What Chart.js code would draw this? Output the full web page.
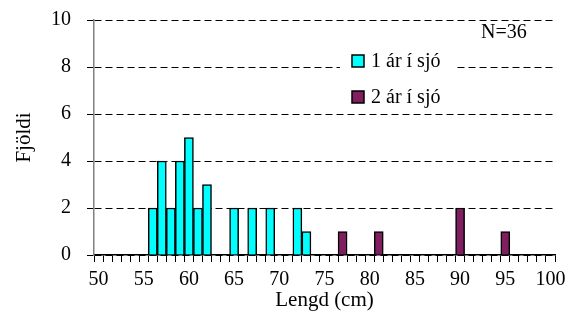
<!DOCTYPE html>
<html>
<head>
<meta charset="utf-8">
<script src="https://cdn.jsdelivr.net/npm/chart.js@4.4.1/dist/chart.umd.min.js"></script>
<style>
  html, body { margin: 0; padding: 0; background: #fff; }
</style>
</head>
<body>
<canvas id="lengthChart" width="567" height="323"></canvas>
<script>
// length classes (cm) on the x axis
const lengthClasses = ['50','51','52','53','54','55','56','57','58','59','60','61','62','63','64','65','66','67','68','69','70',
  '71','72','73','74','75','76','77','78','79','80','81','82','83','84','85','86','87','88','89','90',
  '91','92','93','94','95','96','97','98','99','100'];
const tickLabels = ['50','55','60','65','70','75','80','85','90','95','100'];
const yTicks = [0, 2, 4, 6, 8, 10];

// 1 ár í sjó
const oneSeaLengths = ['56','57','58','59','60','61','62','65','67','69','72','73'];
const oneSeaCounts  = [2, 4, 2, 4, 5, 2, 3, 2, 2, 2, 2, 1];
// 2 ár í sjó
const twoSeaLengths = ['77','81','90','95'];
const twoSeaCounts  = [1, 1, 2, 1];

const seriesNames = ['1 ár í sjó', '2 ár í sjó'];
const sampleText = 'N=36';

const serif = "'Liberation Serif', 'Times New Roman', serif";

function toSeries(lengths, counts) {
    return lengthClasses.map(l => {
        const i = lengths.indexOf(l);
        return i >= 0 ? counts[i] : null;
    });
}

// legend box and N label drawn inside the plot
const insideLegend = {
    id: 'insideLegend',
    afterDraw(chart) {
        const ctx = chart.ctx;
        ctx.save();
        ctx.fillStyle = '#fff';
        ctx.fillRect(340, 44, 117, 62);

        ctx.font = '20px ' + serif;
        ctx.textBaseline = 'middle';
        ctx.textAlign = 'left';
        chart.data.datasets.forEach((ds, i) => {
            const y = 55 + i * 36;
            ctx.fillStyle = ds.backgroundColor;
            ctx.fillRect(352, y, 12, 12);
            ctx.strokeStyle = '#000';
            ctx.lineWidth = 1.5;
            ctx.strokeRect(352, y, 12, 12);
            ctx.fillStyle = '#000';
            ctx.fillText(ds.label, 371, y + 7);
        });

        ctx.font = '20px ' + serif;
        ctx.fillText(sampleText, 481, 33);
        ctx.restore();
    }
};

new Chart(document.getElementById('lengthChart'), {
    type: 'bar',
    data: {
        labels: lengthClasses,
        datasets: [
            {
                label: seriesNames[0],
                data: toSeries(oneSeaLengths, oneSeaCounts),
                backgroundColor: '#00ffff',
                borderColor: '#000',
                borderWidth: 1.5
            },
            {
                label: seriesNames[1],
                data: toSeries(twoSeaLengths, twoSeaCounts),
                backgroundColor: '#7f1f60',
                borderColor: '#000',
                borderWidth: 1.5
            }
        ]
    },
    options: {
        responsive: false,
        animation: false,
        devicePixelRatio: 1,
        layout: { padding: { top: 20, right: 12, left: 0, bottom: 0 } },
        datasets: {
            bar: { barPercentage: 1, categoryPercentage: 1 }
        },
        plugins: {
            legend: { display: false },
            tooltip: { enabled: false }
        },
        scales: {
            x: {
                stacked: true,
                offset: true,
                grid: {
                    offset: true,
                    drawOnChartArea: false,
                    drawTicks: true,
                    tickLength: 7,
                    tickColor: '#000',
                    tickWidth: 1
                },
                border: { color: '#000', width: 1.5 },
                ticks: {
                    autoSkip: false,
                    maxRotation: 0,
                    padding: 6,
                    color: '#000',
                    font: { family: serif, size: 20 },
                    callback: function (value) {
                        const l = this.getLabelForValue(value);
                        return tickLabels.includes(l) ? l : '';
                    }
                },
                title: {
                    display: true,
                    text: 'Lengd (cm)',
                    color: '#000',
                    font: { family: serif, size: 21 },
                    padding: { top: 0, bottom: 10 }
                },
                afterFit: scale => {
                    scale.height = 68;
                    scale.paddingLeft = 0;
                    scale.paddingRight = 0;
                }
            },
            y: {
                stacked: true,
                min: yTicks[0],
                max: yTicks[yTicks.length - 1],
                grid: {
                    color: '#000',
                    lineWidth: 1,
                    tickLength: 7,
                    tickColor: '#000',
                    tickBorderDash: []
                },
                border: { color: '#808080', width: 1.5, dash: [7, 4] },
                ticks: {
                    stepSize: yTicks[1] - yTicks[0],
                    padding: 16,
                    color: '#000',
                    font: { family: serif, size: 20 }
                },
                title: {
                    display: true,
                    text: 'Fjöldi',
                    color: '#000',
                    font: { family: serif, size: 21 },
                    padding: { top: 12, bottom: 0 }
                },
                afterFit: scale => {
                    scale.width = 94;
                    scale.paddingTop = 0;
                    scale.paddingBottom = 0;
                }
            }
        }
    },
    plugins: [insideLegend]
});
</script>
</body>
</html>
